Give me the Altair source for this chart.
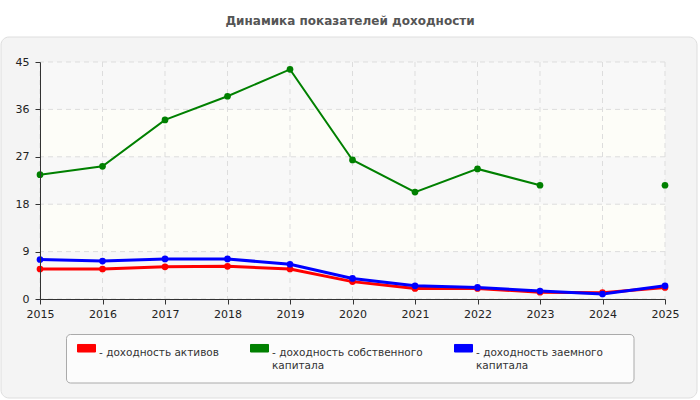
import altair as alt
import pandas as pd

years = [2015, 2016, 2017, 2018, 2019, 2020, 2021, 2022, 2023, 2024, 2025]
series_names = ["доходность активов", "доходность собственного капитала", "доходность заемного капитала"]
roa = [5.7, 5.7, 6.1, 6.2, 5.7, 3.3, 2.0, 2.0, 1.3, 1.2, 2.2]
roe = [23.6, 25.2, 34.0, 38.5, 43.6, 26.4, 20.3, 24.7, 21.6, None, 21.6]
rod = [7.5, 7.2, 7.6, 7.6, 6.6, 3.9, 2.5, 2.2, 1.5, 0.95, 2.5]
colors = ["#ff0000", "#008000", "#0000ff"]
widths = [3, 2, 3]
y_ticks = [0, 9, 18, 27, 36, 45]
hatched_bands = [(0, 9), (18, 27), (36, 45)]
plain_bands = [(9, 18), (27, 36)]

rows = []
for name, vals in zip(series_names, [roa, roe, rod]):
    for yr, v in zip(years, vals):
        rows.append({"year": yr, "series": name, "value": v})
df = pd.DataFrame(rows)

bands = pd.DataFrame(
    [{"y0": a, "y1": b, "kind": "h"} for a, b in hatched_bands]
    + [{"y0": a, "y1": b, "kind": "p"} for a, b in plain_bands]
)
xgrid = pd.DataFrame({"year": years})
ygrid = pd.DataFrame({"v": y_ticks})

FONT = "DejaVu Sans"

xscale = alt.Scale(domain=[years[0], years[-1]], nice=False, zero=False)
yscale = alt.Scale(domain=[0, 45], nice=False)

xaxis = alt.Axis(values=years, format="d", grid=False, tickSize=5, domainColor="#333333", tickColor="#333333",
                 labelFont=FONT, labelFontSize=11, labelColor="#222222", labelPadding=4, title=None, zindex=1,
                 labelFlush=False)
yaxis = alt.Axis(values=y_ticks, grid=False, tickSize=5, domainColor="#333333", tickColor="#333333",
                 labelFont=FONT, labelFontSize=11, labelColor="#222222", labelPadding=6, title=None, zindex=1)

one = pd.DataFrame({"a": [0]})

panel = alt.Chart(one).mark_rect(
    fill="#f4f4f4", stroke="#dedede", strokeWidth=1, cornerRadius=8
).encode(x=alt.value(-39), x2=alt.value(657), y=alt.value(-25), y2=alt.value(336))

legend_box = alt.Chart(one).mark_rect(
    fill="#fcfcfc", stroke="#aaaaaa", strokeWidth=1, cornerRadius=4
).encode(x=alt.value(26.5), x2=alt.value(594), y=alt.value(272.5), y2=alt.value(321))

band_layer = alt.Chart(bands).mark_rect().encode(
    y=alt.Y("y0:Q", scale=yscale, axis=yaxis),
    y2="y1:Q",
    x=alt.value(0),
    x2=alt.value(625),
    fill=alt.Fill("kind:N", scale=alt.Scale(domain=["h", "p"], range=["#f8f8f8", "#fdfdf8"]), legend=None),
)

xg = alt.Chart(xgrid).mark_rule(color="#dddddd", strokeDash=[5, 4], strokeWidth=1).encode(
    x=alt.X("year:Q", scale=xscale, axis=xaxis)
)
yg = alt.Chart(ygrid).mark_rule(color="#dddddd", strokeDash=[5, 4], strokeWidth=1).encode(
    y=alt.Y("v:Q", scale=yscale, axis=yaxis)
)

legend = alt.Legend(
    orient="none",
    legendX=37,
    legendY=276.5,
    direction="horizontal",
    title=None,
    padding=0,
    symbolType="M-1,-0.42H1V0.42H-1Z",
    symbolSize=324,
    symbolStrokeColor="#999999",
    symbolStrokeWidth=1,
    symbolOpacity=1,
    labelFont=FONT,
    labelFontSize=10.5,
    labelColor="#333333",
    labelOffset=3,
    columnPadding=29,
    labelLimit=400,
    labelBaseline="top",
    labelExpr=(
        "indexof(datum.label, ' капитала') >= 0 ? "
        "split(replace('- ' + datum.label, ' капитала', '\u00a0\u00a0\u00a0\u00a0|\u00a0\u00a0капитала'), '|') : "
        "['- ' + datum.label, '\u00a0']"
    ),
)

color = alt.Color("series:N", scale=alt.Scale(domain=series_names, range=colors), legend=legend)

line_layers = []
for name, w in zip(series_names, widths):
    line_layers.append(
        alt.Chart(df).transform_filter(alt.datum.series == name).mark_line(strokeWidth=w).encode(
            x=alt.X("year:Q", scale=xscale, axis=xaxis),
            y=alt.Y("value:Q", scale=yscale, axis=yaxis),
            color=color,
            order=alt.Order("year:Q"),
        )
    )

points = alt.Chart(df).transform_filter("isValid(datum.value)").mark_point(filled=True, size=45, opacity=1).encode(
    x=alt.X("year:Q", scale=xscale, axis=xaxis),
    y=alt.Y("value:Q", scale=yscale, axis=yaxis),
    color=color,
)

chart = alt.layer(panel, legend_box, band_layer, xg, yg, *line_layers, points).resolve_scale(
    fill="independent"
).properties(
    width=625,
    height=237,
    autosize=alt.AutoSizeParams(type="none"),
    padding={"left": 40, "top": 62, "right": 35, "bottom": 101},
    title=alt.TitleParams(
        "Динамика показателей доходности",
        font=FONT, fontSize=12, fontWeight="bold", color="#555555",
        anchor="middle", frame="group", offset=9, dx=-2.5,
    ),
    background="#ffffff",
).configure_view(stroke="#dddddd", strokeWidth=1)

chart.save("out.html", embed_options={"renderer": "svg", "actions": False})
